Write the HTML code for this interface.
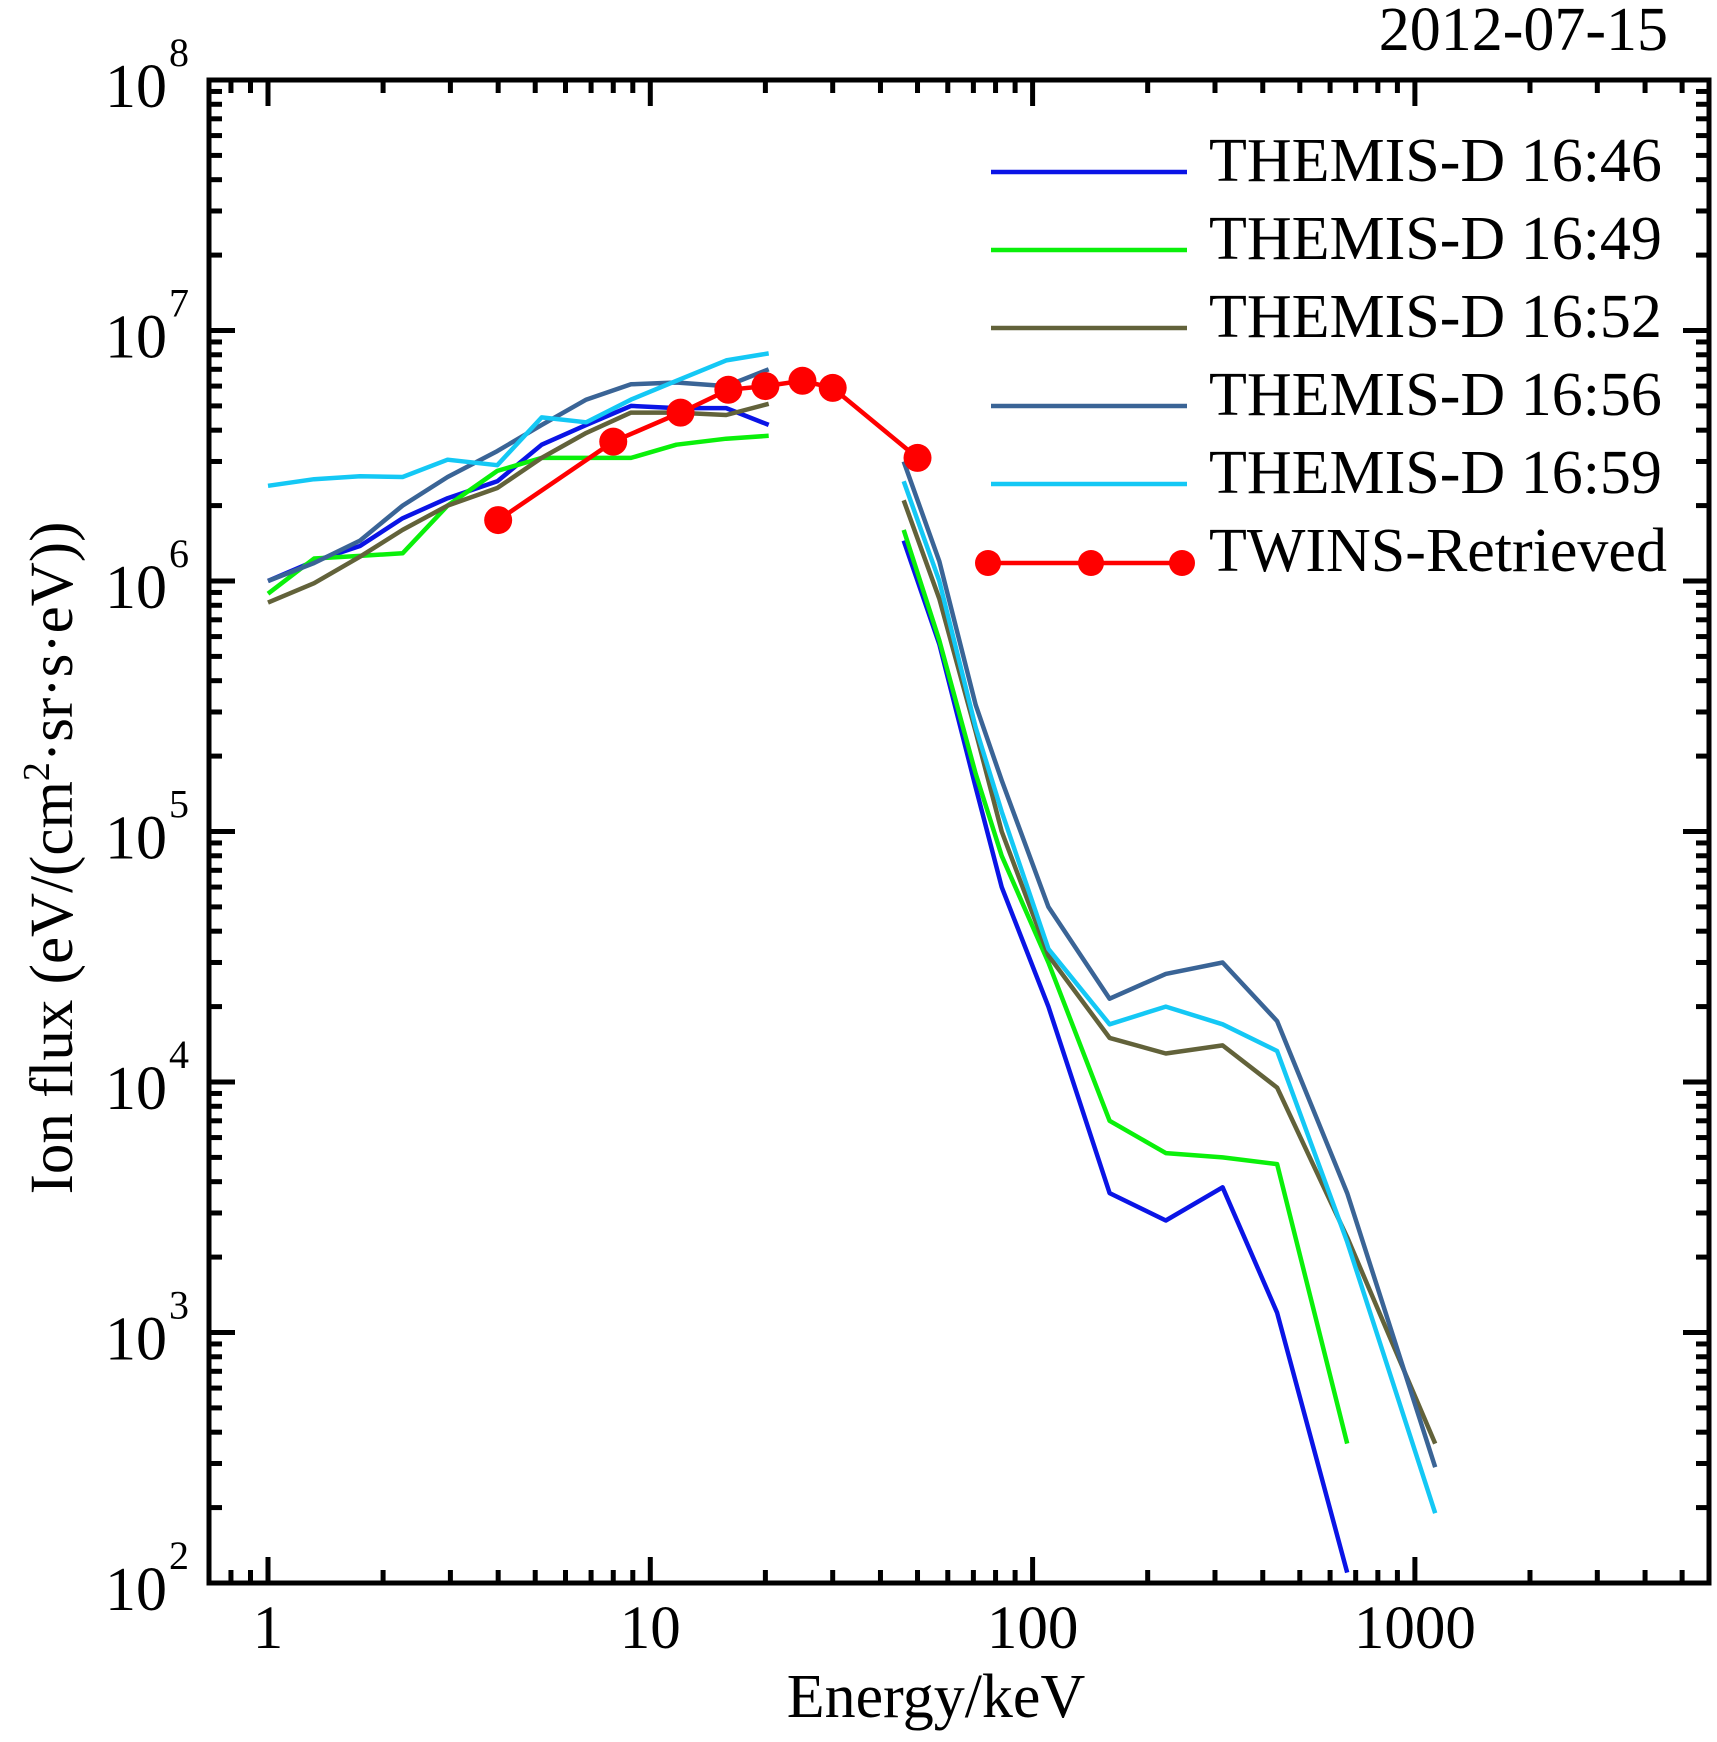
<!DOCTYPE html>
<html><head><meta charset="utf-8"><style>
html,body{margin:0;padding:0;background:#fff}
svg{display:block}
text{font-family:"Liberation Serif",serif;fill:#000}
</style></head><body>
<svg id="chart" width="1717" height="1742" viewBox="0 0 1717 1742">
<text x="1668" y="50" font-size="62" text-anchor="end">2012-07-15</text>
<g id="ticks"></g>
<g id="lines"></g>
<rect x="209" y="80" width="1500" height="1503" fill="none" stroke="#000" stroke-width="5"/>
<text x="936" y="1717" font-size="62" text-anchor="middle">Energy/keV</text>
<text transform="translate(72,858) rotate(-90)" font-size="61" text-anchor="middle">Ion flux (eV/(cm<tspan font-size="38" dy="-23">2</tspan><tspan dy="23">·sr·s·eV))</tspan></text>
<g id="legend"></g>
</svg>
<script>
const lowE=[1,1.32,1.74,2.25,2.95,3.98,5.2,6.8,8.9,11.7,15.8,20.4];
const highE=[46,57,71,83,110,159,223,314,436,665,1130];
const s1646Low=[1.0e6,1.2e6,1.38e6,1.78e6,2.14e6,2.5e6,3.5e6,4.2e6,5.0e6,4.9e6,4.9e6,4.2e6];
const s1646High=[1.45e6,5.6e5,1.5e5,6e4,2.0e4,3.6e3,2.8e3,3.8e3,1.2e3,1.1e2];
const s1649Low=[8.9e5,1.23e6,1.26e6,1.29e6,2.0e6,2.75e6,3.1e6,3.1e6,3.1e6,3.5e6,3.7e6,3.8e6];
const s1649High=[1.6e6,5.8e5,1.7e5,8e4,3.0e4,7e3,5.2e3,5.0e3,4.7e3,3.6e2];
const s1652Low=[8.2e5,9.8e5,1.25e6,1.6e6,2.0e6,2.35e6,3.1e6,3.9e6,4.7e6,4.7e6,4.6e6,5.1e6];
const s1652High=[2.1e6,8.5e5,2.5e5,1.0e5,3.2e4,1.5e4,1.3e4,1.4e4,9.5e3,2.4e3,3.6e2];
const s1656Low=[1.0e6,1.18e6,1.45e6,2.0e6,2.6e6,3.3e6,4.2e6,5.3e6,6.1e6,6.2e6,6.0e6,7.0e6];
const s1656High=[3.0e6,1.2e6,3.2e5,1.6e5,5.0e4,2.15e4,2.7e4,3.0e4,1.75e4,3.6e3,2.9e2];
const s1659Low=[2.4e6,2.55e6,2.62e6,2.6e6,3.05e6,2.9e6,4.5e6,4.3e6,5.3e6,6.3e6,7.6e6,8.1e6];
const s1659High=[2.5e6,1.0e6,2.6e5,1.2e5,3.4e4,1.7e4,2.0e4,1.7e4,1.33e4,2.3e3,1.9e2];
const twinsE=[4,8,12,16,20,25,30,50];
const twinsFlux=[1.75e6,3.6e6,4.7e6,5.8e6,6.0e6,6.3e6,5.9e6,3.1e6];
const seriesNames=["THEMIS-D 16:46","THEMIS-D 16:49","THEMIS-D 16:52","THEMIS-D 16:56","THEMIS-D 16:59"];
const xTickLabels=["1","10","100","1000"];
const yTickExps=[2,3,4,5,6,7,8];

const NS="http://www.w3.org/2000/svg";
const X0=268,XD=382.3,Y0=1583,YD=250.5;
function xs(v){return X0+Math.log10(v)*XD;}
function ys(v){return Y0-(Math.log10(v)-2)*YD;}
function mk(tag,attrs,parent){const e=document.createElementNS(NS,tag);for(const k in attrs)e.setAttribute(k,attrs[k]);parent.appendChild(e);return e;}
const ticks=document.getElementById('ticks'),lines=document.getElementById('lines'),leg=document.getElementById('legend');
const L=209,R=1709,T=80,B=1583;
for(let d=-1;d<=3;d++)for(let m=1;m<=9;m++){
  const v=m*Math.pow(10,d);const x=xs(v);if(x<L+3||x>R-3)continue;
  const len=m===1?26:13;
  const t1=mk('line',{x1:x,x2:x,y1:B,y2:B-len,stroke:'#000','stroke-width':5},ticks);
  
  
  const t2=mk('line',{x1:x,x2:x,y1:T,y2:T+len,stroke:'#000','stroke-width':5},ticks);
  
  
}
xTickLabels.forEach((lab,i)=>{
  const t=mk('text',{x:xs(Math.pow(10,i)),y:1648,'font-size':61,'text-anchor':'middle'},ticks);t.textContent=lab;
  
  
});
for(let d=2;d<=7;d++)for(let m=1;m<=9;m++){
  const v=m*Math.pow(10,d);const y=ys(v);
  const len=m===1?26:13;
  const t1=mk('line',{x1:L,x2:L+len,y1:y,y2:y,stroke:'#000','stroke-width':5},ticks);
  
  
  const t2=mk('line',{x1:R,x2:R-len,y1:y,y2:y,stroke:'#000','stroke-width':5},ticks);
  
  
}
yTickExps.forEach(e=>{
  const y=ys(Math.pow(10,e));
  const t=mk('text',{x:167,y:y+27,'font-size':62,'text-anchor':'end'},ticks);t.textContent='10';
  
  
  const s=mk('text',{x:169,y:y-14,'font-size':40},ticks);s.textContent=String(e);
  
  
});
const colors=['#0a14e6','#0af00a','#62623a','#3a6496','#14c8f5'];
const lows=[s1646Low,s1649Low,s1652Low,s1656Low,s1659Low];
const highs=[s1646High,s1649High,s1652High,s1656High,s1659High];
function pts(es,vs){return vs.map((v,i)=>xs(es[i]).toFixed(1)+','+ys(v).toFixed(1)).join(' ');}
for(let k=0;k<5;k++){
  const a=mk('polyline',{points:pts(lowE,lows[k]),fill:'none',stroke:colors[k],'stroke-width':4.5,'stroke-linejoin':'round'},lines);
  
  
  const b=mk('polyline',{points:pts(highE,highs[k]),fill:'none',stroke:colors[k],'stroke-width':4.5,'stroke-linejoin':'round'},lines);
  
  
}
const tw=mk('polyline',{points:pts(twinsE,twinsFlux),fill:'none',stroke:'#f00','stroke-width':4.5},lines);


twinsE.forEach((e,i)=>{
  const c=mk('circle',{cx:xs(e),cy:ys(twinsFlux[i]),r:14,fill:'#f00'},lines);
  
  
});
const rowY=[172,250,328,406,484,563];
seriesNames.forEach((n,k)=>{
  const l=mk('line',{x1:991,x2:1187,y1:rowY[k],y2:rowY[k],stroke:colors[k],'stroke-width':4.5},leg);
  
  
  const t=mk('text',{x:1209,y:rowY[k]+9,'font-size':62},leg);t.textContent=n;
  
  
});
const ll=mk('line',{x1:988,x2:1182,y1:rowY[5],y2:rowY[5],stroke:'#f00','stroke-width':4.5},leg);


[988,1091,1182].forEach(x=>{
  const c=mk('circle',{cx:x,cy:rowY[5],r:13,fill:'#f00'},leg);
  
  
});
const lt=mk('text',{x:1209,y:rowY[5]+8,'font-size':62},leg);lt.textContent='TWINS-Retrieved';


</script>
</body></html>
